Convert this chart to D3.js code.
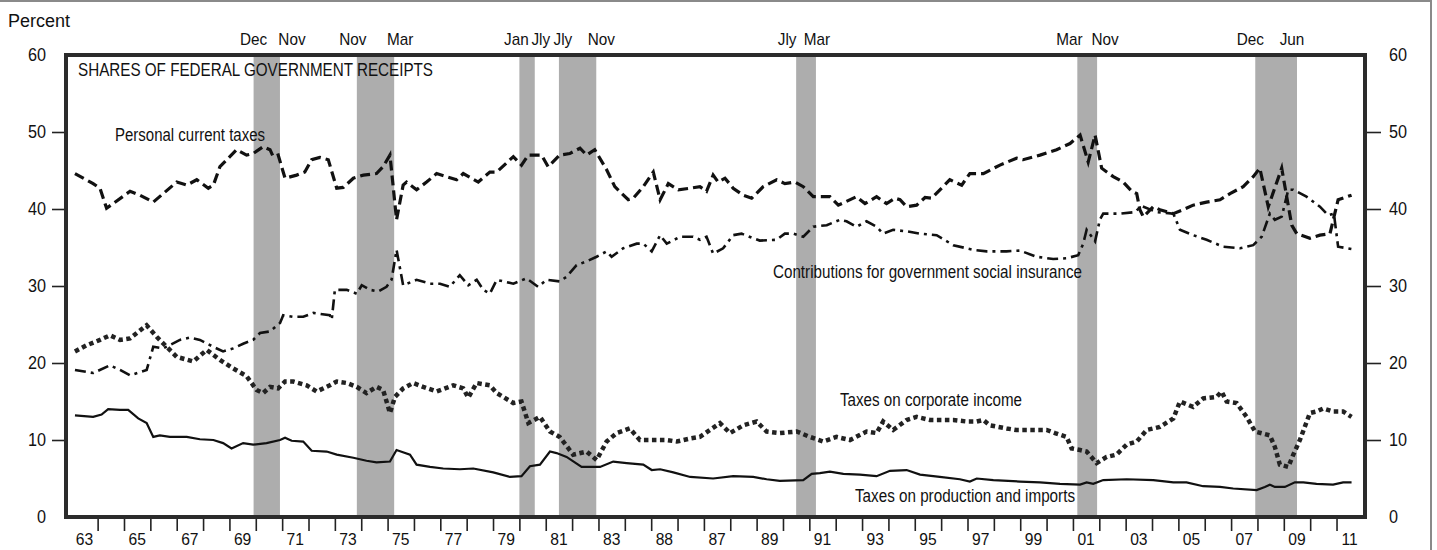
<!DOCTYPE html>
<html>
<head>
<meta charset="utf-8">
<script src="https://cdn.jsdelivr.net/npm/d3@7/dist/d3.min.js"></script>
<style>
body { margin: 0; background: #fff; }
svg text { font-family: "Liberation Sans", Arial, Helvetica, sans-serif; fill: #111; }
</style>
</head>
<body>
<script>

// shares of federal receipts, percent, [year, value]
var personalTaxes = [[1963.14,44.6],[1963.83,43.3],[1964.09,42.7],[1964.34,40.1],[1965.23,42.3],[1965.60,41.8],[1966.11,40.9],[1967.00,43.5],[1967.38,43.1],[1967.76,43.8],[1968.20,42.7],[1968.39,43.1],[1968.64,45.5],[1969.27,47.7],[1969.65,47.0],[1969.90,47.2],[1970.28,48.1],[1970.54,47.7],[1970.66,46.8],[1970.85,47.0],[1971.11,44.0],[1971.55,44.4],[1971.86,44.8],[1972.12,46.4],[1972.43,46.7],[1972.75,46.4],[1973.07,42.7],[1973.32,42.8],[1973.70,44.0],[1974.08,44.4],[1974.58,44.6],[1974.83,45.5],[1975.09,47.0],[1975.34,38.6],[1975.59,43.1],[1975.72,43.5],[1976.10,42.5],[1976.48,43.5],[1976.86,44.6],[1977.24,44.2],[1977.62,43.8],[1977.87,44.6],[1978.44,43.5],[1978.88,44.8],[1979.14,44.8],[1979.77,46.8],[1980.08,45.7],[1980.34,47.0],[1980.84,47.0],[1981.09,45.5],[1981.53,47.0],[1981.91,47.2],[1982.30,47.9],[1982.55,47.0],[1982.86,47.7],[1983.31,45.1],[1983.62,42.9],[1984.13,41.2],[1984.32,41.4],[1984.70,42.9],[1985.08,44.8],[1985.34,41.2],[1985.65,43.3],[1986.03,42.5],[1986.48,42.7],[1986.85,42.9],[1987.10,42.3],[1987.35,44.4],[1987.54,43.5],[1987.80,44.0],[1988.11,42.7],[1988.49,41.8],[1988.81,41.4],[1989.25,42.9],[1989.76,43.8],[1990.07,43.3],[1990.45,43.5],[1990.77,42.9],[1991.15,41.6],[1991.78,41.6],[1992.10,40.5],[1992.79,41.6],[1993.11,40.7],[1993.55,41.6],[1993.93,40.7],[1994.25,41.4],[1994.44,41.2],[1994.69,40.3],[1995.07,40.5],[1995.39,41.5],[1995.64,41.4],[1996.33,43.8],[1996.78,43.1],[1997.09,44.6],[1997.60,44.6],[1998.23,45.7],[1998.86,46.6],[1999.11,46.4],[1999.75,47.0],[2000.38,47.7],[2000.89,48.5],[2001.27,49.6],[2001.58,46.1],[2001.84,49.6],[2002.09,45.3],[2002.53,44.2],[2002.91,43.5],[2003.23,42.3],[2003.42,42.0],[2003.54,39.9],[2003.67,39.0],[2004.05,40.3],[2004.30,39.9],[2004.81,39.4],[2005.18,39.9],[2005.56,40.5],[2006.07,40.9],[2006.58,41.2],[2006.96,42.0],[2007.46,42.9],[2007.84,44.2],[2008.09,45.3],[2008.41,40.3],[2008.92,45.3],[2009.30,37.9],[2009.49,36.8],[2009.99,36.2],[2010.37,36.6],[2010.75,36.8],[2011.06,41.2],[2011.57,41.8]];

var socialInsurance = [[1963.14,19.1],[1963.83,18.7],[1964.47,19.7],[1964.85,19.1],[1965.23,18.4],[1965.86,19.1],[1966.11,22.1],[1966.49,21.9],[1967.12,23.0],[1967.50,23.3],[1967.88,23.0],[1968.39,22.1],[1968.76,21.5],[1969.14,21.9],[1969.52,22.5],[1969.90,23.0],[1970.16,23.9],[1970.54,24.1],[1970.92,25.2],[1971.04,26.2],[1971.42,26.0],[1971.80,26.0],[1972.18,26.5],[1972.81,26.2],[1972.88,25.6],[1973.00,29.5],[1973.45,29.5],[1973.83,29.0],[1974.02,30.1],[1974.33,29.5],[1974.65,29.3],[1974.96,29.9],[1975.15,30.8],[1975.34,34.7],[1975.59,30.1],[1976.10,30.8],[1976.61,30.3],[1976.99,30.3],[1977.36,29.9],[1977.74,31.4],[1978.06,30.1],[1978.38,30.8],[1978.63,29.5],[1978.88,29.0],[1979.14,30.8],[1979.77,30.3],[1980.27,31.0],[1980.71,29.9],[1981.03,30.8],[1981.53,30.6],[1981.79,31.2],[1982.17,32.7],[1982.55,33.2],[1982.93,33.8],[1983.31,34.5],[1983.50,33.8],[1983.94,34.9],[1984.45,35.5],[1984.70,35.5],[1985.02,34.5],[1985.34,36.6],[1985.59,35.5],[1986.10,36.4],[1986.59,36.4],[1986.85,36.0],[1987.10,36.4],[1987.35,34.2],[1987.73,34.9],[1988.11,36.6],[1988.43,36.8],[1988.87,36.2],[1989.12,35.9],[1989.76,36.0],[1990.07,36.8],[1990.39,36.8],[1990.77,36.4],[1991.15,37.7],[1991.66,37.9],[1992.16,38.6],[1992.41,38.4],[1992.79,37.7],[1993.17,38.4],[1993.55,37.7],[1993.80,36.8],[1994.18,37.3],[1994.69,37.1],[1995.20,36.8],[1995.83,36.6],[1996.46,35.3],[1997.22,34.7],[1997.73,34.5],[1998.48,34.5],[1998.99,34.6],[1999.62,33.8],[2000.25,33.5],[2000.76,33.6],[2001.20,34.0],[2001.39,35.5],[2001.52,37.3],[2001.84,35.8],[2002.02,38.6],[2002.15,39.4],[2002.78,39.4],[2003.35,39.6],[2003.60,40.4],[2004.17,39.6],[2004.81,39.4],[2005.06,37.3],[2005.56,36.6],[2006.07,36.0],[2006.70,35.1],[2007.34,34.9],[2007.84,35.3],[2008.16,36.4],[2008.47,39.4],[2008.66,38.6],[2008.92,39.0],[2009.04,40.7],[2009.17,42.5],[2009.36,42.5],[2009.86,41.6],[2010.37,40.3],[2010.68,39.2],[2010.90,39.4],[2011.06,35.1],[2011.57,34.8]];

var corporateTaxes = [[1963.14,21.5],[1963.58,22.3],[1964.09,23.0],[1964.47,23.6],[1964.85,23.0],[1965.23,23.2],[1965.86,24.9],[1966.24,23.4],[1966.62,22.1],[1967.00,20.8],[1967.63,20.2],[1968.14,21.7],[1968.64,20.4],[1969.14,19.3],[1969.65,18.3],[1970.03,16.5],[1970.28,16.1],[1970.54,16.9],[1970.85,16.7],[1971.11,17.6],[1971.42,17.6],[1971.93,17.1],[1972.31,16.3],[1972.81,17.1],[1973.07,17.6],[1973.45,17.4],[1973.83,16.9],[1974.20,16.1],[1974.58,16.9],[1974.83,16.5],[1975.09,13.5],[1975.28,15.6],[1975.59,16.7],[1975.97,17.4],[1976.35,16.9],[1976.86,16.3],[1977.49,17.1],[1977.87,16.7],[1978.06,15.5],[1978.38,17.4],[1978.88,17.1],[1979.14,16.1],[1979.77,14.8],[1980.08,15.0],[1980.34,12.2],[1980.78,13.0],[1981.16,11.1],[1981.53,10.4],[1982.04,8.1],[1982.55,8.5],[1982.93,7.4],[1983.31,9.8],[1983.69,10.9],[1984.19,11.5],[1984.57,10.0],[1985.08,10.0],[1985.59,10.0],[1985.97,9.8],[1986.48,10.2],[1986.85,10.4],[1987.61,12.2],[1987.99,10.9],[1988.49,11.9],[1989.00,12.4],[1989.38,11.1],[1989.88,10.9],[1990.52,11.1],[1991.02,10.4],[1991.53,9.8],[1992.03,10.4],[1992.54,10.0],[1993.17,11.1],[1993.55,10.9],[1993.80,12.4],[1994.18,11.3],[1994.69,12.6],[1995.07,13.0],[1995.58,12.6],[1996.46,12.6],[1996.97,12.4],[1997.35,12.4],[1997.60,12.6],[1997.85,11.9],[1998.48,11.5],[1998.86,11.3],[1999.49,11.3],[2000.00,11.3],[2000.32,10.9],[2000.76,10.4],[2000.95,8.9],[2001.27,8.7],[2001.52,8.5],[2001.90,7.0],[2002.28,7.8],[2002.65,8.1],[2003.04,9.4],[2003.42,9.8],[2003.80,11.3],[2004.30,11.7],[2004.81,12.8],[2005.06,15.0],[2005.56,14.3],[2005.94,15.4],[2006.45,15.6],[2006.64,16.3],[2006.83,15.0],[2007.21,14.8],[2007.59,13.0],[2007.91,11.1],[2008.47,10.6],[2008.66,9.1],[2008.85,6.8],[2009.17,6.5],[2009.36,8.1],[2009.61,10.0],[2009.99,13.5],[2010.24,13.7],[2010.50,14.1],[2010.87,13.7],[2011.25,13.7],[2011.57,13.0]];

var productionTaxes = [[1963.14,13.2],[1963.83,13.0],[1964.15,13.3],[1964.40,14.0],[1964.85,13.9],[1965.16,13.9],[1965.54,12.8],[1965.86,12.2],[1966.11,10.4],[1966.36,10.6],[1966.74,10.4],[1967.38,10.4],[1967.88,10.1],[1968.39,10.0],[1968.76,9.6],[1969.08,8.9],[1969.52,9.6],[1969.90,9.4],[1970.41,9.6],[1970.92,10.0],[1971.11,10.3],[1971.36,9.9],[1971.80,9.8],[1972.12,8.6],[1972.69,8.5],[1973.07,8.1],[1973.70,7.7],[1974.20,7.3],[1974.58,7.1],[1975.09,7.2],[1975.34,8.7],[1975.85,8.1],[1976.10,6.8],[1976.61,6.5],[1977.11,6.3],[1977.74,6.2],[1978.25,6.3],[1979.01,5.8],[1979.64,5.2],[1980.08,5.3],[1980.40,6.6],[1980.78,6.8],[1981.16,8.5],[1981.41,8.3],[1981.79,7.8],[1982.36,6.5],[1983.06,6.5],[1983.56,7.2],[1984.07,7.0],[1984.70,6.8],[1985.02,6.1],[1985.34,6.2],[1985.84,5.8],[1986.48,5.2],[1987.35,5.0],[1988.11,5.3],[1988.87,5.2],[1989.38,4.9],[1989.88,4.7],[1990.77,4.8],[1991.09,5.6],[1991.40,5.7],[1991.78,5.9],[1992.29,5.6],[1992.92,5.5],[1993.55,5.3],[1994.06,6.0],[1994.69,6.1],[1995.20,5.5],[1995.95,5.2],[1996.71,4.9],[1997.09,4.6],[1997.35,5.0],[1997.98,4.8],[1998.99,4.6],[1999.75,4.5],[2000.51,4.3],[2001.27,4.2],[2001.52,4.5],[2001.77,4.3],[2002.15,4.8],[2003.04,4.9],[2004.05,4.8],[2004.81,4.5],[2005.31,4.5],[2005.94,4.0],[2006.58,3.9],[2007.08,3.7],[2007.97,3.5],[2008.28,3.9],[2008.47,4.2],[2008.66,3.9],[2009.04,3.9],[2009.42,4.5],[2009.74,4.5],[2010.24,4.3],[2010.87,4.2],[2011.25,4.5],[2011.57,4.5]];

// recessions: start year, start month, end year, end month
var recessions = [[1969,12,1970,11],[1973,11,1975,3],[1980,1,1980,7],[1981,7,1982,11],[1990,7,1991,3],[2001,3,2001,11],[2007,12,2009,6]];
var recessionNames = [["Dec","Nov"],["Nov","Mar"],["Jan","Jly"],["Jly","Nov"],["Jly","Mar"],["Mar","Nov"],["Dec","Jun"]];
var nameShift = [[0,12],[-4,6],[-3,6],[4,5],[-9,1],[-8,8],[-5,-5]];

var yearTicks = d3.range(1964, 2012);
var yearLabels = ["63","65","67","69","71","73","75","77","79","81","83","88","87","89","91","93","95","97","99","01","03","05","07","09","11"];
var valueTicks = [0, 10, 20, 30, 40, 50, 60];

var W = 1437, H = 550;
var plotL = 66, plotR = 1365, plotT = 55, plotB = 517;

var svg = d3.select("body").append("svg")
	.attr("width", W)
	.attr("height", H);

var x = d3.scaleLinear().domain([1962.8, 2012.08]).range([plotL, plotR]);
var y = d3.scaleLinear().domain([0, 60]).range([plotB, plotT]);

function monthStart(yr, m) { return yr + (m - 1) / 12; }
function monthEnd(yr, m) { return yr + m / 12; }

// squeeze text a bit, the original type is a narrow grotesque
function condense(sel, k) {
	sel.each(function(){
		var w = this.getComputedTextLength();
		d3.select(this).attr("textLength", w * k).attr("lengthAdjust", "spacingAndGlyphs");
	});
}

// outer picture border (top and right edges of the scan)
svg.append("line").attr("x1", 0).attr("x2", 1431).attr("y1", 1).attr("y2", 1)
	.attr("stroke", "#8a8a8a").attr("stroke-width", 2);
svg.append("line").attr("x1", 1431).attr("x2", 1431).attr("y1", 0).attr("y2", H)
	.attr("stroke", "#8a8a8a").attr("stroke-width", 2);

// shaded recessions
svg.selectAll("rect.rec")
	.data(recessions)
	.enter().append("rect")
	.attr("class", "rec")
	.attr("x", function(d){ return x(monthStart(d[0], d[1])); })
	.attr("y", plotT)
	.attr("width", function(d){ return x(monthEnd(d[2], d[3])) - x(monthStart(d[0], d[1])); })
	.attr("height", plotB - plotT)
	.attr("fill", "#adadad");

recessions.forEach(function(d, i){
	svg.append("text")
		.attr("class", "rlab")
		.attr("x", x(monthStart(d[0], d[1])) + nameShift[i][0])
		.attr("y", 45)
		.attr("text-anchor", "middle")
		.attr("font-size", 17)
		.text(recessionNames[i][0]);
	svg.append("text")
		.attr("class", "rlab")
		.attr("x", x(monthEnd(d[2], d[3])) + nameShift[i][1])
		.attr("y", 45)
		.attr("text-anchor", "middle")
		.attr("font-size", 17)
		.text(recessionNames[i][1]);
});
condense(svg.selectAll("text.rlab"), 0.9);

// axes
var yLeft = d3.axisLeft(y).tickValues(valueTicks).tickSize(12).tickPadding(6).tickFormat(d3.format("d"));
var yRight = d3.axisRight(y).tickValues(valueTicks).tickSize(14).tickPadding(8).tickFormat(d3.format("d"));
var xAxis = d3.axisBottom(x).tickValues(yearTicks).tickSize(12).tickFormat("");

function styleAxis(g) {
	g.select(".domain").remove();
	g.selectAll("line").attr("stroke", "#222").attr("stroke-width", 1.6);
	g.selectAll("text").attr("font-size", 18).attr("fill", "#111")
		.attr("font-family", "Liberation Sans, Arial, sans-serif");
	g.selectAll(".tick").filter(function(d){ return d === 0 || d === 60; }).select("line").remove();
}

var gl = svg.append("g").attr("transform", "translate(" + (plotL - 2) + ",0)").call(yLeft).call(styleAxis);
var gr = svg.append("g").attr("transform", "translate(" + (plotR + 2) + ",0)").call(yRight).call(styleAxis);
svg.append("g").attr("transform", "translate(0," + (plotB + 2) + ")").call(xAxis).call(styleAxis);
condense(gl.selectAll("text"), 0.9);
condense(gr.selectAll("text"), 0.9);

svg.selectAll("text.yr")
	.data(yearLabels)
	.enter().append("text")
	.attr("class", "yr")
	.attr("x", function(d, i){ return x(1963.5 + 2 * i); })
	.attr("y", 545)
	.attr("text-anchor", "middle")
	.attr("font-size", 17)
	.text(function(d){ return d; });
condense(svg.selectAll("text.yr"), 0.92);

// lines
var line = d3.line()
	.x(function(d){ return x(d[0]); })
	.y(function(d){ return y(d[1]); });

svg.append("path").datum(productionTaxes)
	.attr("d", line).attr("fill", "none")
	.attr("stroke", "#111").attr("stroke-width", 2.2);

svg.append("path").datum(corporateTaxes)
	.attr("d", line).attr("fill", "none")
	.attr("stroke", "#222").attr("stroke-width", 4.5)
	.attr("stroke-dasharray", "4.5,3.5");

svg.append("path").datum(socialInsurance)
	.attr("d", line).attr("fill", "none")
	.attr("stroke", "#111").attr("stroke-width", 2.6)
	.attr("stroke-dasharray", "11,5,3,5");

svg.append("path").datum(personalTaxes)
	.attr("d", line).attr("fill", "none")
	.attr("stroke", "#111").attr("stroke-width", 3.2)
	.attr("stroke-dasharray", "10,5");

// frame
svg.append("rect")
	.attr("x", plotL).attr("y", plotT)
	.attr("width", plotR - plotL).attr("height", plotB - plotT)
	.attr("fill", "none").attr("stroke", "#2b2b2b").attr("stroke-width", 4);

// labels
svg.append("text").attr("x", 8).attr("y", 27).attr("font-size", 18)
	.attr("textLength", 62).attr("lengthAdjust", "spacingAndGlyphs")
	.text("Percent");

svg.append("text").attr("x", 78).attr("y", 76).attr("font-size", 17.5)
	.attr("textLength", 355).attr("lengthAdjust", "spacingAndGlyphs")
	.text("SHARES OF FEDERAL GOVERNMENT RECEIPTS");

svg.append("text").attr("x", 115).attr("y", 141).attr("font-size", 17.5)
	.attr("textLength", 150).attr("lengthAdjust", "spacingAndGlyphs")
	.text("Personal current taxes");

svg.append("text").attr("x", 773).attr("y", 278).attr("font-size", 17.5)
	.attr("textLength", 309).attr("lengthAdjust", "spacingAndGlyphs")
	.text("Contributions for government social insurance");

svg.append("text").attr("x", 840).attr("y", 406).attr("font-size", 17.5)
	.attr("textLength", 182).attr("lengthAdjust", "spacingAndGlyphs")
	.text("Taxes on corporate income");

svg.append("text").attr("x", 855).attr("y", 502).attr("font-size", 17.5)
	.attr("textLength", 220).attr("lengthAdjust", "spacingAndGlyphs")
	.text("Taxes on production and imports");

</script>
</body>
</html>
